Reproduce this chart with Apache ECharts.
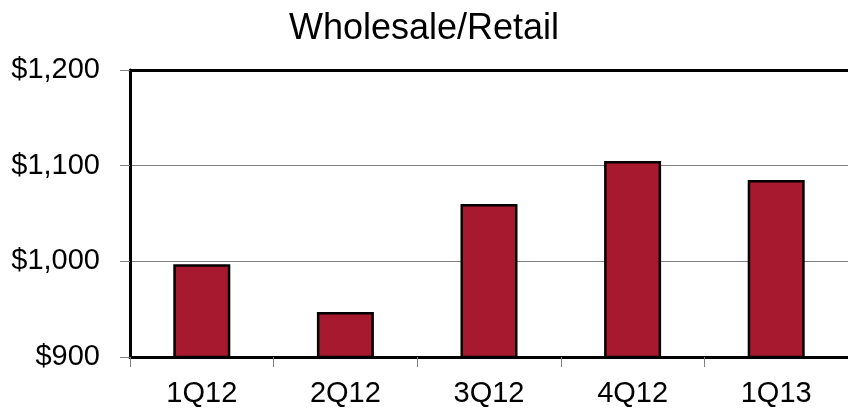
<!DOCTYPE html>
<html>
<head>
<meta charset="utf-8">
<script src="https://cdn.jsdelivr.net/npm/echarts@6/dist/echarts.min.js"></script>
<style>
  html, body { margin: 0; padding: 0; background: #fff; }
  #chart { width: 848px; height: 409px; }
</style>
</head>
<body>
<div id="chart"></div>
<script>
// Quarterly Wholesale/Retail figures ($)
const quarters = ['1Q12', '2Q12', '3Q12', '4Q12', '1Q13'];
const wholesaleRetail = [997, 947, 1060, 1105, 1085];
const yTicks = { min: 900, max: 1200, interval: 100 };

const FONT = '"Liberation Sans", Arial, sans-serif';
const chart = echarts.init(document.getElementById('chart'));

chart.setOption({
  animation: false,
  backgroundColor: '#ffffff',
  title: {
    text: 'Wholesale/Retail',
    left: 'center',
    top: 6,
    textStyle: { fontFamily: FONT, fontSize: 36, fontWeight: 'normal', color: '#000' }
  },
  grid: { left: 130, right: 0, top: 70, bottom: 52 },
  xAxis: [
    {
      type: 'category',
      data: quarters,
      position: 'bottom',
      axisLine: { lineStyle: { color: '#000', width: 3 } },
      axisTick: { show: true, length: 10, lineStyle: { color: '#808080', width: 1 } },
      axisLabel: { margin: 22, fontFamily: FONT, fontSize: 29, color: '#000' },
      splitLine: { show: false }
    },
    {
      // top frame line
      type: 'category',
      data: quarters,
      position: 'top',
      axisLine: { show: true, lineStyle: { color: '#000', width: 3 } },
      axisTick: { show: false },
      axisLabel: { show: false }
    }
  ],
  yAxis: {
    type: 'value',
    min: yTicks.min,
    max: yTicks.max,
    interval: yTicks.interval,
    axisLine: { show: true, lineStyle: { color: '#000', width: 3 } },
    axisTick: { show: true, length: 10, lineStyle: { color: '#808080', width: 1 } },
    axisLabel: {
      margin: 30,
      fontFamily: FONT,
      fontSize: 29,
      color: '#000',
      formatter: v => '$' + v.toLocaleString('en-US')
    },
    splitLine: { show: true, lineStyle: { color: '#808080', width: 1 } }
  },
  series: [
    {
      type: 'bar',
      data: wholesaleRetail,
      barWidth: 57,
      itemStyle: { color: '#A6192E', borderColor: '#000', borderWidth: 2.5 }
    }
  ]
});
</script>
</body>
</html>
